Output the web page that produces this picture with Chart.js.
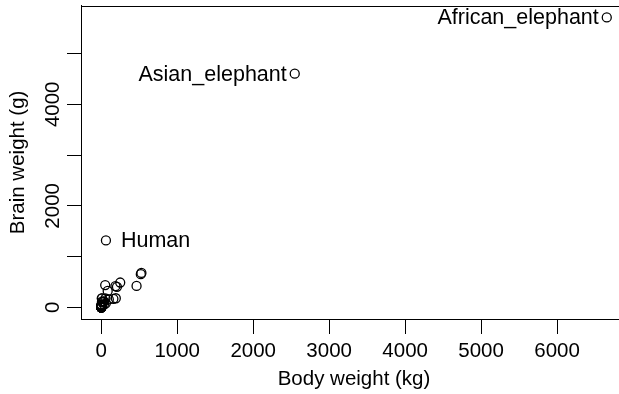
<!DOCTYPE html>
<html>
<head>
<meta charset="utf-8">
<script src="https://cdn.jsdelivr.net/npm/chart.js@4"></script>
<style>
  html, body { margin: 0; padding: 0; background: #fff; overflow: hidden; }
  #wrap { width: 640px; height: 394px; }
</style>
</head>
<body>
<div id="wrap"><canvas id="chart" width="640" height="394"></canvas></div>
<script>
// mammals: body weight (kg) vs brain weight (g)
var animals = ["Arctic_fox","Owl_monkey","Mountain_beaver","Cow","Grey_wolf","Goat","Roe_deer","Guinea_pig","Verbet","Chinchilla",
  "Ground_squirrel","Arctic_ground_squirrel","African_giant_pouched_rat","Lesser_short-tailed_shrew","Star-nosed_mole","Nine-banded_armadillo","Tree_hyrax","N.A._opossum","Asian_elephant","Big_brown_bat",
  "Donkey","Horse","European_hedgehog","Patas_monkey","Cat","Galago","Genet","Giraffe","Gorilla","Grey_seal",
  "Rock_hyrax-a","Human","African_elephant","Water_opossum","Rhesus_monkey","Kangaroo","Yellow-bellied_marmot","Golden_hamster","Mouse","Little_brown_bat",
  "Slow_loris","Okapi","Rabbit","Sheep","Jaguar","Chimpanzee","Baboon","Desert_hedgehog","Giant_armadillo","Rock_hyrax-b",
  "Raccoon","Rat","E._American_mole","Mole_rat","Musk_shrew","Pig","Echidna","Brazilian_tapir","Tenrec","Phalanger",
  "Tree_shrew","Red_fox"];
var bodyWeight = [3.385,0.48,1.35,465,36.33,27.66,14.83,1.04,4.19,0.425,
  0.101,0.92,1,0.005,0.06,3.5,2,1.7,2547,0.023,
  187.1,521,0.785,10,3.3,0.2,1.41,529,207,85,
  0.75,62,6654,3.5,6.8,35,4.05,0.12,0.023,0.01,
  1.4,250,2.5,55.5,100,52.16,10.55,0.55,60,3.6,
  4.288,0.28,0.075,0.122,0.048,192,3,160,0.9,1.62,
  0.104,4.235];
var brainWeight = [44.5,15.5,8.1,423,119.5,115,98.2,5.5,58,6.4,
  4,5.7,6.6,0.14,1,10.8,12.3,6.3,4603,0.3,
  419,655,3.5,115,25.6,5,17.5,680,406,325,
  12.3,1320,5712,3.9,179,56,17,1,0.4,0.25,
  12.5,490,12.1,175,157,440,179.5,2.4,81,21,
  39.2,1.9,1.2,3,0.33,180,25,169,2.6,11.4,
  2.5,50.4];
var labelLeft = ["African_elephant", "Asian_elephant"];
var labelRight = ["Human"];
var xTicks = [0, 1000, 2000, 3000, 4000, 5000, 6000];
var yTicks = [0, 1000, 2000, 3000, 4000, 5000];
var yTickLabels = [0, 2000, 4000];

var FONT = "'Liberation Sans', Arial, Helvetica, sans-serif";

var points = bodyWeight.map(function (b, i) { return { x: b, y: brainWeight[i] }; });

var boxAndLabels = {
  id: 'boxAndLabels',
  afterDraw: function (chart) {
    var ctx = chart.ctx, a = chart.chartArea;
    ctx.save();
    ctx.strokeStyle = '#000';
    ctx.lineWidth = 1;
    ctx.strokeRect(Math.round(a.left) + 0.5, Math.round(a.top) + 0.5,
      Math.round(a.right - a.left), Math.round(a.bottom - a.top));
    var meta = chart.getDatasetMeta(0);
    ctx.font = '21.5px ' + FONT;
    ctx.fillStyle = '#000';
    ctx.textBaseline = 'middle';
    animals.forEach(function (name, i) {
      var p = meta.data[i];
      if (labelLeft.indexOf(name) >= 0) {
        ctx.textAlign = 'right';
        ctx.fillText(name, p.x - 8, p.y + 1);
      } else if (labelRight.indexOf(name) >= 0) {
        ctx.textAlign = 'left';
        ctx.fillText(name, p.x + 15, p.y + 1);
      }
    });
    ctx.restore();
  }
};

new Chart(document.getElementById('chart'), {
  type: 'scatter',
  data: {
    datasets: [{
      data: points,
      pointStyle: 'circle',
      pointRadius: 4.5,
      pointHoverRadius: 4.5,
      pointBackgroundColor: 'rgba(0,0,0,0)',
      pointBorderColor: '#000',
      pointBorderWidth: 1.3
    }]
  },
  plugins: [boxAndLabels],
  options: {
    responsive: false,
    animation: false,
    events: [],
    layout: { padding: { top: 5, right: 13, left: 0, bottom: 0 } },
    plugins: { legend: { display: false }, tooltip: { enabled: false } },
    scales: {
      x: {
        type: 'linear',
        min: -266.2,
        max: 6920.2,
        afterBuildTicks: function (s) { s.ticks = xTicks.map(function (v) { return { value: v }; }); },
        afterFit: function (s) { s.height = 75; },
        grid: { drawOnChartArea: false, drawTicks: true, tickLength: 15, color: '#000', lineWidth: 1 },
        border: { display: true, color: '#000', width: 1 },
        ticks: {
          color: '#000', font: { family: FONT, size: 20.5 }, padding: 5, maxRotation: 0, autoSkip: false,
          callback: function (v) { return String(v); }
        },
        title: { display: true, text: 'Body weight (kg)', color: '#000', font: { family: FONT, size: 20.5 }, padding: { top: 0, bottom: 2 } }
      },
      y: {
        type: 'linear',
        min: -228.5,
        max: 5940.6,
        afterBuildTicks: function (s) { s.ticks = yTicks.map(function (v) { return { value: v }; }); },
        afterFit: function (s) { s.width = 81; },
        grid: { drawOnChartArea: false, drawTicks: true, tickLength: 14, color: '#000', lineWidth: 1 },
        border: { display: true, color: '#000', width: 1 },
        ticks: {
          color: '#000', font: { family: FONT, size: 20.5 }, autoSkip: false,
          minRotation: 90, maxRotation: 90, crossAlign: 'center', padding: -9,
          callback: function (v) { return yTickLabels.indexOf(v) >= 0 ? String(v) : ''; }
        },
        title: { display: true, text: 'Brain weight (g)', color: '#000', font: { family: FONT, size: 20.5 }, padding: { top: 6, bottom: 0 } }
      }
    }
  }
});
</script>
</body>
</html>
